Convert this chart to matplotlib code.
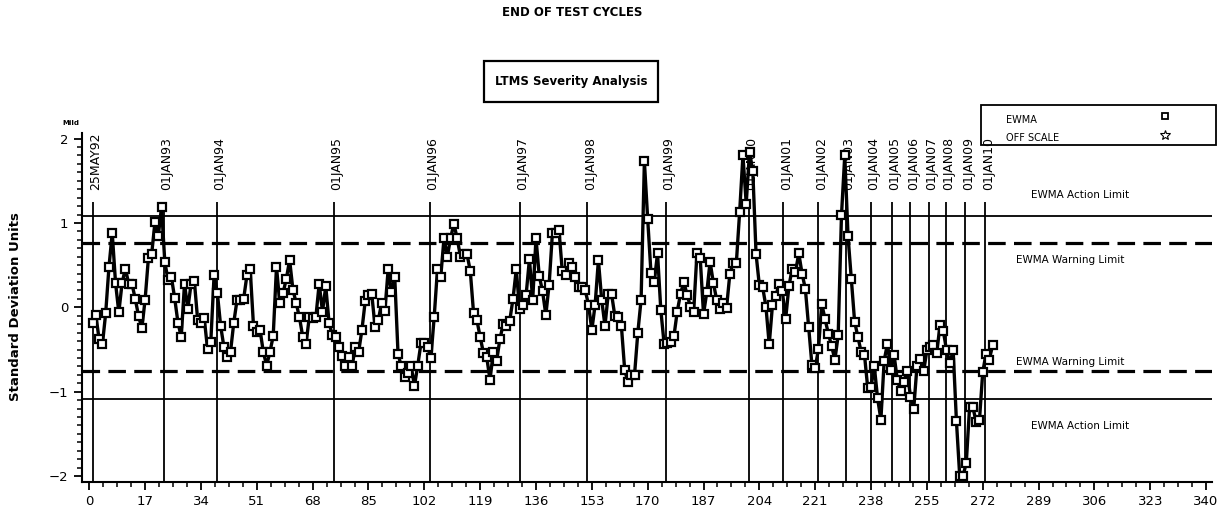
import numpy as np
import matplotlib.pyplot as plt
from matplotlib.ticker import MultipleLocator
from matplotlib.patches import Rectangle
from matplotlib.lines import Line2D

# EWMA severity, one value per test (test sequence 1..275)
ewma = [
    -0.18, -0.09, -0.38, -0.44, -0.07, 0.48, 0.88, 0.29, -0.06, 0.29,
    0.46, 0.28, 0.28, 0.10, -0.10, -0.25, 0.09, 0.58, 0.63, 1.01,
    0.84, 1.19, 0.54, 0.32, 0.36, 0.11, -0.18, -0.35, 0.28, -0.02,
    0.28, 0.31, -0.15, -0.19, -0.13, -0.49, -0.41, 0.38, 0.17, -0.22,
    -0.47, -0.59, -0.53, -0.18, 0.09, 0.09, 0.10, 0.38, 0.45, -0.22,
    -0.29, -0.27, -0.53, -0.69, -0.53, -0.34, 0.48, 0.05, 0.17, 0.34,
    0.56, 0.21, 0.05, -0.12, -0.35, -0.43, -0.11, -0.13, -0.11, 0.28,
    -0.05, 0.25, -0.18, -0.33, -0.35, -0.47, -0.58, -0.70, -0.59, -0.70,
    -0.47, -0.53, -0.27, 0.07, 0.15, 0.16, -0.23, -0.15, 0.05, -0.04,
    0.45, 0.18, 0.36, -0.55, -0.70, -0.82, -0.78, -0.70, -0.93, -0.69,
    -0.42, -0.42, -0.47, -0.60, -0.12, 0.45, 0.36, 0.82, 0.60, 0.82,
    0.99, 0.82, 0.60, 0.63, 0.63, 0.43, -0.07, -0.15, -0.35, -0.54,
    -0.59, -0.86, -0.53, -0.64, -0.38, -0.20, -0.22, -0.16, 0.10, 0.45,
    -0.02, 0.03, 0.15, 0.57, 0.09, 0.82, 0.37, 0.19, -0.09, 0.27,
    0.88, 0.88, 0.92, 0.43, 0.38, 0.52, 0.48, 0.36, 0.24, 0.24,
    0.20, 0.03, -0.27, 0.03, 0.56, 0.09, -0.22, 0.16, 0.16, -0.10,
    -0.11, -0.22, -0.74, -0.89, -0.80, -0.80, -0.30, 0.09, 1.73, 1.05,
    0.41, 0.30, 0.64, -0.03, -0.43, -0.42, -0.41, -0.34, -0.05, 0.16,
    0.30, 0.15, 0.01, -0.05, 0.64, 0.58, -0.08, 0.18, 0.54, 0.29,
    0.09, -0.02, 0.05, -0.01, 0.39, 0.53, 0.53, 1.13, 1.80, 1.23,
    1.84, 1.62, 0.63, 0.26, 0.24, 0.01, -0.44, 0.03, 0.13, 0.28,
    0.19, -0.14, 0.25, 0.46, 0.42, 0.64, 0.40, 0.22, -0.23, -0.68,
    -0.72, -0.49, 0.04, -0.14, -0.31, -0.46, -0.62, -0.33, 1.09, 1.80,
    0.84, 0.34, -0.17, -0.35, -0.53, -0.56, -0.96, -0.94, -0.70, -1.08,
    -1.33, -0.63, -0.43, -0.74, -0.56, -0.86, -0.99, -0.88, -0.75, -1.06,
    -1.20, -0.69, -0.61, -0.76, -0.51, -0.47, -0.45, -0.54, -0.21, -0.28,
    -0.51, -0.66, -0.51, -1.35, -2.00, -2.00, -1.84, -1.18, -1.18, -1.36,
    -1.34, -0.77, -0.55, -0.62, -0.45,
]
tests = np.arange(1, len(ewma) + 1)

# calendar markers (test sequence where each date starts)
date_labels = ['25MAY92', '01JAN93', '01JAN94', '01JAN95', '01JAN96', '01JAN97',
               '01JAN98', '01JAN99', '01JAN00', '01JAN01', '01JAN02', '01JAN03',
               '01JAN04', '01JAN05', '01JAN06', '01JAN07', '01JAN08', '01JAN09',
               '01JAN10']
date_pos = [1, 22.8, 38.9, 74.4, 103.7, 131.1, 151.6, 175.6, 200.8, 211.3,
            222.0, 230.3, 237.9, 244.3, 250.0, 255.6, 260.7, 266.7, 272.8]

action_limit = 1.085
warning_limit = 0.758

W, H = 1217, 514
fig = plt.figure(figsize=(W / 100, H / 100), dpi=100)


def fx(px):
    return px / W


def fy(py):
    return 1 - py / H


ax = fig.add_axes([fx(81.7), fy(481.7), fx(1212) - fx(81.7), fy(133) - fy(481.7)])
ax.set_xlim(-2.3, 341.8)
ax.set_ylim(-2.066, 2.066)
for s in ['top', 'right']:
    ax.spines[s].set_visible(False)
for s in ['left', 'bottom']:
    ax.spines[s].set_linewidth(1.5)

# limits
for v in [action_limit, -action_limit]:
    ax.axhline(v, color='black', lw=1.3, zorder=1)
for v in [warning_limit, -warning_limit]:
    ax.axhline(v, color='black', lw=2.3, dashes=(5.5, 2.6), zorder=1)

# date lines and labels
ax.vlines(date_pos, -2.066, 1.25, color='black', lw=1.3, zorder=1)
for p, lab in zip(date_pos, date_labels):
    ax.text(p + 0.9, 1.39, lab, rotation=90, ha='center', va='bottom',
            fontsize=9, clip_on=False, zorder=2)

ax.plot(tests, ewma, color='black', lw=2.4, marker='s', ms=5.5, mfc='white',
        mec='black', mew=1.6, zorder=5, clip_on=False)

# limit labels
ax.text(301.6, 1.33, 'EWMA Action Limit', ha='center', va='center', fontsize=7.5)
ax.text(298.6, 0.56, 'EWMA Warning Limit', ha='center', va='center', fontsize=7.5)
ax.text(298.6, -0.65, 'EWMA Warning Limit', ha='center', va='center', fontsize=7.5)
ax.text(301.6, -1.41, 'EWMA Action Limit', ha='center', va='center', fontsize=7.5)

ax.set_xticks(np.arange(0, 341, 17))
ax.xaxis.set_minor_locator(MultipleLocator(4.25))
ax.set_yticks([-2, -1, 0, 1, 2])
ax.yaxis.set_minor_locator(MultipleLocator(0.1))
ax.tick_params(which='major', direction='out', length=6, width=1.3, labelsize=9.5)
ax.tick_params(which='minor', direction='out', length=3.5, width=1.1)

# titles and decorations
fig.text(fx(572), fy(13), 'END OF TEST CYCLES', ha='center', va='center',
         fontsize=8.5, fontweight='bold')
fig.patches.append(Rectangle((fx(484), fy(102)), fx(174), 41 / H, transform=fig.transFigure,
                             fill=False, lw=1.6, ec='black'))
fig.text(fx(571), fy(81), 'LTMS Severity Analysis', ha='center', va='center',
         fontsize=8.5, fontweight='bold')
fig.text(fx(16), fy(307), 'Standard Deviation Units', rotation=90, ha='center',
         va='center', fontsize=9.5, fontweight='bold')
fig.text(fx(71), fy(123), 'Mild', ha='center', va='center', fontsize=5, fontweight='bold')

# legend box
fig.patches.append(Rectangle((fx(981), fy(145)), fx(235), 40 / H, transform=fig.transFigure,
                             fill=False, lw=1.3, ec='black'))
fig.text(fx(1006), fy(120), 'EWMA', ha='left', va='center', fontsize=7)
fig.text(fx(1006), fy(138), 'OFF SCALE', ha='left', va='center', fontsize=7)
fig.add_artist(Line2D([fx(1165)], [fy(116)], marker='s', ms=5, mfc='white', mec='black',
                      mew=1.3, transform=fig.transFigure))
fig.add_artist(Line2D([fx(1165)], [fy(135)], marker='*', ms=7, mfc='white', mec='black',
                      mew=0.8, transform=fig.transFigure))

fig.savefig('out.png', dpi=100)
